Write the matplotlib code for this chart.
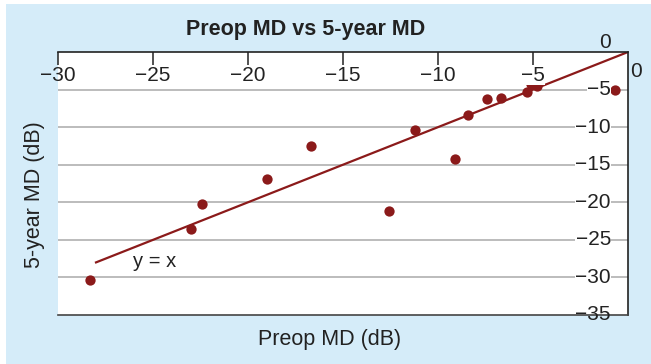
import matplotlib
matplotlib.use("Agg")
import matplotlib.pyplot as plt
from matplotlib.patches import Rectangle

# Preop MD vs 5-year MD (dB)
preop_md = [-28.3, -23.0, -22.4, -19.0, -16.7, -12.6, -11.2, -9.1,
            -8.4, -7.4, -6.7, -5.3, -5.1, -4.8, -0.7]
year5_md = [-30.3, -23.5, -20.2, -16.9, -12.5, -21.1, -10.4, -14.2,
            -8.4, -6.3, -6.1, -5.3, -4.3, -4.5, -5.0]

line_x = [-28, 0]
line_y = [-28, 0]

x_ticks = [-30, -25, -20, -15, -10, -5]
y_ticks = [-5, -10, -15, -20, -25, -30, -35]

red = "#8b1a1a"
blue_bg = "#d5ecf9"

plt.rcParams["font.family"] = ["Liberation Sans", "DejaVu Sans"]

fig = plt.figure(figsize=(6.51, 3.64), dpi=100)
fig.patch.set_facecolor("white")
fig.patches.append(Rectangle((6 / 651, 0), 1, 1 - 4 / 364, transform=fig.transFigure,
                             facecolor=blue_bg, edgecolor="none", zorder=-1))

ax = fig.add_axes([58 / 651, 1 - 315 / 364, 570 / 651, 263 / 364])
ax.set_facecolor("white")
ax.set_xlim(-30, 0)
ax.set_ylim(-35, 0)

ax.spines["left"].set_visible(False)
ax.spines["top"].set_color("#222222")
ax.spines["right"].set_color("#222222")
ax.spines["bottom"].set_color("#444444")
for s in ["top", "right", "bottom"]:
    ax.spines[s].set_linewidth(1.2)

# horizontal grid lines
for v in y_ticks[:-1]:
    ax.axhline(v, color="#b0b0b0", lw=1.2, zorder=1)

ax.xaxis.tick_top()
ax.set_xticks(x_ticks)
ax.tick_params(axis="x", direction="in", length=9, width=1.1, color="#222222",
               labeltop=False, labelbottom=False)
ax.set_yticks([])

# x tick labels sit under the top axis line (white box hides what is behind)
for v in x_ticks:
    box = None if v == -30 else dict(facecolor="white", edgecolor="none", pad=0)
    ax.text(v, -3.1, "\u2212%d" % abs(v), ha="center", va="center", fontsize=15,
            color="#222222", zorder=4, clip_on=False, bbox=box)
ax.text(-1.2, 1.25, "0", ha="center", va="center", fontsize=15, color="#222222",
        clip_on=False)

# y tick labels inside the right axis
for v in y_ticks:
    box = None if v == -35 else dict(facecolor="white", edgecolor="none", pad=0.3)
    ax.text(-0.9, v, "\u2212%d" % abs(v), ha="right", va="center", fontsize=15,
            color="#222222", zorder=4, clip_on=False, bbox=box)
ax.text(0.1, -2.65, "0", ha="left", va="center", fontsize=15, color="#222222",
        clip_on=False)

ax.plot(line_x, line_y, color=red, lw=1.6, zorder=2)
ax.scatter(preop_md, year5_md, s=55, color=red, zorder=3, linewidths=0)
ax.text(-24.9, -27.9, "y = x", ha="center", va="center", fontsize=14.5, color="#222222")

fig.text(306 / 651, 1 - 30 / 364, "Preop MD vs 5-year MD", ha="center", va="center",
         fontsize=15.5, fontweight="bold", color="#222222")
fig.text(330 / 651, 1 - 340 / 364, "Preop MD (dB)", ha="center", va="center",
         fontsize=15.5, color="#222222")
fig.text(35 / 651, 1 - 195 / 364, "5-year MD (dB)", ha="center", va="center",
         rotation=90, fontsize=15.5, color="#222222")

fig.savefig("out.png", dpi=100)
